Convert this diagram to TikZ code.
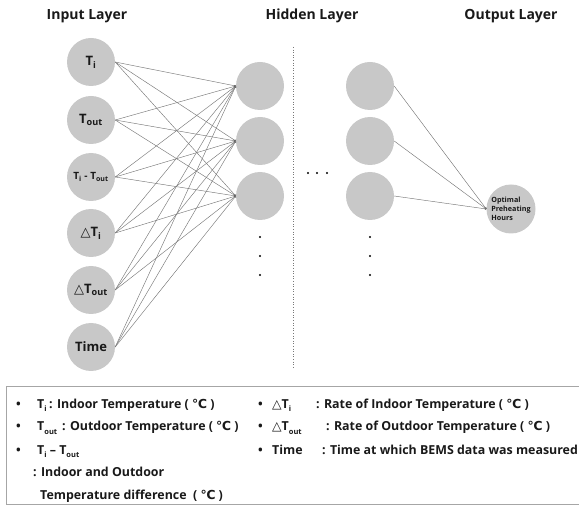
\documentclass[tikz,border=0pt]{standalone}
\usepackage{fontspec}
\setmainfont{Open Sans}
\newfontfamily\symf{DejaVu Sans}
\usetikzlibrary{arrows.meta}
\definecolor{nfill}{RGB}{200,200,200}
\definecolor{txt}{RGB}{25,25,25}
\definecolor{edgec}{RGB}{120,120,120}
\newcommand{\degc}{{\symf ℃}}
\newcommand{\tri}{{\symf △}}
\newcommand{\sub}[1]{\textsubscript{#1}}
\newcommand{\lsub}[1]{\raisebox{-0.25em}{\fontsize{7.5}{8}\selectfont #1}}
\begin{document}
\begin{tikzpicture}[x=1pt,y=-1pt,
  neuron/.style={circle,fill=nfill,minimum size=48pt,inner sep=0pt,text=txt,font=\bfseries\fontsize{13}{14}\selectfont},
  conn/.style={draw=edgec,line width=0.45pt,-{Circle[length=1.8pt,fill=black]}},
  title/.style={text=txt,font=\bfseries\fontsize{14}{16}\selectfont},
  leg/.style={anchor=base west,inner sep=0pt,text=txt,font=\bfseries\fontsize{12.4}{14}\selectfont},
  vdot/.style={circle,fill=black,inner sep=0pt,minimum size=2.4pt}]
\useasboundingbox (0,0) rectangle (579,505);
% titles
\node[title] (t1) at (87,16) {Input Layer};
\node[title] (t2) at (312,16) {Hidden Layer};
\node[title] (t3) at (511,16) {Output Layer};
% input
\node[neuron] (i1) at (91,62) {T\sub{i}};
\node[neuron] (i2) at (91,120) {T\sub{out}};
\node[neuron,font=\bfseries\fontsize{10}{12}\selectfont] (i3) at (91,177) {T\sub{i} - T\sub{out}};
\node[neuron] (i4) at (91,233) {\tri T\sub{i}};
\node[neuron] (i5) at (91,290) {\tri T\sub{out}};
\node[neuron] (i6) at (91,347) {Time};
% hidden
\node[neuron] (h1) at (260,86) {};
\node[neuron] (h2) at (260,141) {};
\node[neuron] (h3) at (260,196) {};
\node[neuron] (g1) at (370,86) {};
\node[neuron] (g2) at (370,141) {};
\node[neuron] (g3) at (370,196) {};
% output
\node[neuron,minimum size=49pt,align=left,font=\bfseries\fontsize{7.2}{8.7}\selectfont] (o) at (511,209) {Optimal\\Preheating\\Hours};
% connections
\foreach \i in {i1,i2,i3,i4,i5,i6}
  \foreach \h in {h1,h2,h3}
    \draw[conn] (\i.east) -- (\h.west);
\foreach \h in {g1,g2,g3}
  \draw[conn] (\h.east) -- (o.west);
% separator
\coordinate (s1) at (293,47);
\coordinate (s2) at (293,368);
\draw[edgec,dotted,line width=0.6pt] (s1) -- (s2);
% dots
\foreach \y [count=\k] in {237,256,275} {
  \node[vdot] (a\k) at (260,\y) {};
  \node[vdot] (b\k) at (370,\y) {};
}
\foreach \x [count=\k] in {308,317,327} \node[vdot] (c\k) at (\x,173) {};
% legend
\coordinate (l1) at (6,386);
\coordinate (l2) at (590,504);
\draw[gray!70,line width=0.8pt] (l1) rectangle (l2);
\node[leg] (b1) at (16,408) {•};
\node[leg] (b2) at (16,431) {•};
\node[leg] (b3) at (16,454) {•};
\node[leg] (L1) at (37,408) {T\lsub{i}};
\node[leg] (L1b) at (49,408) {: Indoor Temperature ( \degc{} )};
\node[leg] (L2) at (37,431) {T\lsub{out}};
\node[leg] (L2b) at (62,431) {: Outdoor Temperature ( \degc{} )};
\node[leg] (L3) at (37,454) {T\lsub{i} – T\lsub{out}};
\node[leg] (L4) at (33,476) {: Indoor and Outdoor};
\node[leg] (L5) at (40,499) {Temperature difference~ ( \degc{} )};
\node[leg] (b4) at (258,408) {•};
\node[leg] (b5) at (258,431) {•};
\node[leg] (b6) at (258,454) {•};
\node[leg] (R1) at (272,408) {\tri T\lsub{i}};
\node[leg] (R1b) at (316,408) {: Rate of Indoor Temperature ( \degc{} )};
\node[leg] (R2) at (272,431) {\tri T\lsub{out}};
\node[leg] (R2b) at (326,431) {: Rate of Outdoor Temperature ( \degc{} )};
\node[leg] (R3) at (272,454) {Time};
\node[leg] (R3b) at (322,454) {: Time at which BEMS data was measured};
\end{tikzpicture}
\end{document}
